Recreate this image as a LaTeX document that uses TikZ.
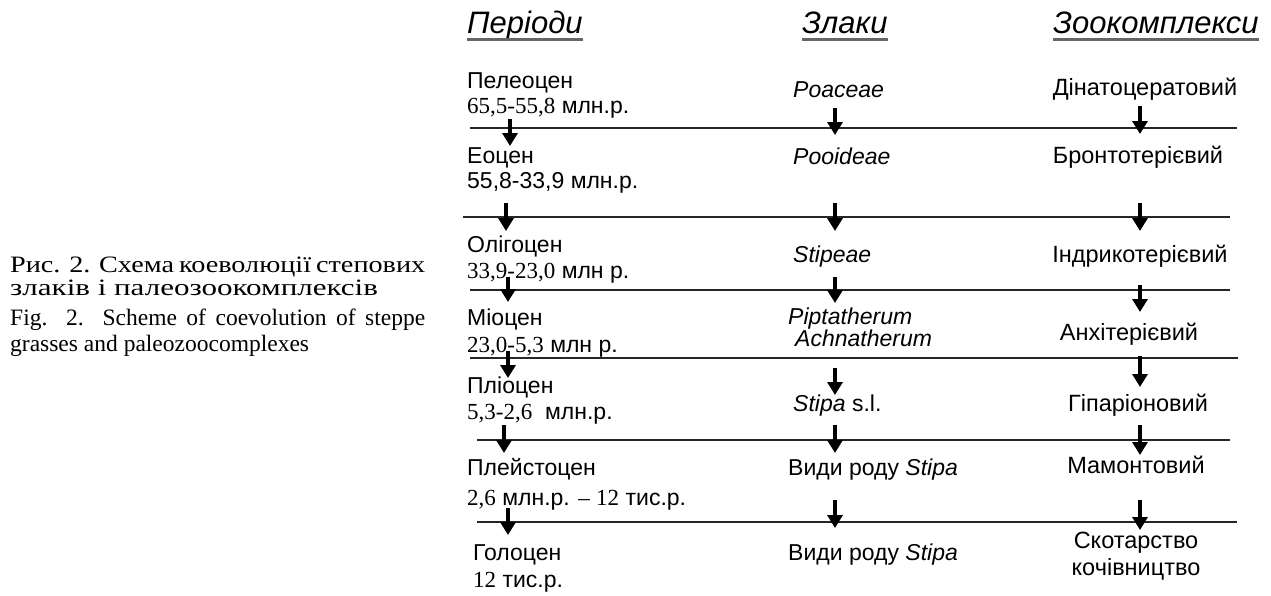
\documentclass[tikz,border=0pt]{standalone}
\usepackage{fontspec}
\setmainfont{Liberation Sans}
\newfontfamily\tms{Liberation Serif}
\newfontfamily\tmswide{Liberation Serif}[FakeStretch=1.2]
\newfontfamily\tmswider{Liberation Serif}[FakeStretch=1.32]
\usetikzlibrary{arrows.meta}
\begin{document}
\begin{tikzpicture}[x=1pt,y=-1pt,
  txt/.style={inner sep=0pt, anchor=base west, font=\fontsize{23}{27}\selectfont},
  ctr/.style={inner sep=0pt, anchor=base, font=\fontsize{23.5}{27}\selectfont},
  hdr/.style={inner sep=0pt, anchor=base west, font=\fontsize{31}{35}\selectfont\itshape},
  captxt/.style={inner sep=0pt, anchor=base west, font=\fontsize{23.5}{27}\selectfont\tms},
  capcyr/.style={inner sep=0pt, anchor=base west, font=\fontsize{23.5}{27}\selectfont\tmswide},
  ulin/.style={line width=2.5pt, color=black!60},
  hline/.style={line width=1.4pt, color=black!85},
  darr/.style={line width=4.5pt, -{Triangle[length=13pt,width=15pt]}}]
\useasboundingbox (0,0) rectangle (1271,595);
% caption
\node[capcyr] (c1) at (10,272) {\makebox[415pt][s]{Рис. 2. Схема коеволюції степових}};
\node[capcyr] (c2) at (10,295) {\tmswider злаків і палеозоокомплексів};
\node[captxt] (c3) at (10,325) {\makebox[415pt][s]{Fig. 2. Scheme of coevolution of steppe}};
\node[captxt] (c4) at (10,351) {grasses and paleozoocomplexes};
% headers
\node[hdr] (hP) at (467,33) {Періоди};
\node[hdr] (hZ) at (802,33) {Злаки};
\node[hdr] (hK) at (1053,33) {Зоокомплекси};
\foreach \h in {hP,hZ,hK}{\draw[ulin] ([yshift=-6.5pt]\h.base west) -- ([yshift=-6.5pt]\h.base east);}
% horizontal lines
\coordinate (l1a) at (470,128); \coordinate (l1b) at (1237,128);
\coordinate (l2a) at (463,217); \coordinate (l2b) at (1230,217);
\coordinate (l3a) at (470,290); \coordinate (l3b) at (1230,290);
\coordinate (l4a) at (470,358); \coordinate (l4b) at (1238,358);
\coordinate (l5a) at (477,440); \coordinate (l5b) at (1230,440);
\coordinate (l6a) at (477,522); \coordinate (l6b) at (1237,522);
\foreach \i in {1,...,6}{\draw[hline] (l\i a) -- (l\i b);}
% left column
\node[txt] (p1a) at (467,88) {Пелеоцен};
\node[txt] (p1b) at (467,113) {{\tms 65,5-55,8} млн.р.};
\node[txt] (p2a) at (467,163) {Еоцен};
\node[txt] (p2b) at (467,188) {55,8-33,9 млн.р.};
\node[txt] (p3a) at (467,252) {Олігоцен};
\node[txt] (p3b) at (467,278) {{\tms 33,9-23,0} млн р.};
\node[txt] (p4a) at (467,325) {Міоцен};
\node[txt] (p4b) at (467,352) {{\tms 23,0-5,3} млн р.};
\node[txt] (p5a) at (467,393) {Пліоцен};
\node[txt] (p5b) at (467,419) {{\tms 5,3-2,6}\ \ млн.р.};
\node[txt] (p6a) at (467,475) {Плейстоцен};
\node[txt] (p6b) at (467,505) {{\tms 2,6} млн.р. {\tms –} {\tms 12} тис.р.};
\node[txt] (p7a) at (473,560) {Голоцен};
\node[txt] (p7b) at (473,587) {{\tms 12} тис.р.};
% middle column
\node[txt] (g1) at (793,97) {\itshape Poaceae};
\node[txt] (g2) at (793,164) {\itshape Pooideae};
\node[txt] (g3) at (793,262) {\itshape Stipeae};
\node[txt] (g4a) at (788,324) {\itshape Piptatherum};
\node[txt] (g4b) at (795,346) {\itshape Achnatherum};
\node[txt] (g5) at (793,411) {\textit{Stipa} s.l.};
\node[txt] (g6) at (788,475) {Види роду \textit{Stipa}};
\node[txt] (g7) at (788,560) {Види роду \textit{Stipa}};
% right column
\node[ctr] (z1) at (1145,95) {Дінатоцератовий};
\node[ctr] (z2) at (1138,163) {Бронтотерієвий};
\node[ctr] (z3) at (1140,262) {Індрикотерієвий};
\node[ctr] (z4) at (1129,340) {Анхітерієвий};
\node[ctr] (z5) at (1138,411) {Гіпаріоновий};
\node[ctr] (z6) at (1136,473) {Мамонтовий};
\node[ctr] (z7a) at (1136,548) {Скотарство};
\node[ctr] (z7b) at (1136,575) {кочівництво};
% arrows
\foreach \n/\x/\ya/\yb in {
  a1/510/119/146, a2/506/203/231, a3/508/277/302, a4/508/351/378, a5/504/425/453, a6/508/508/535,
  b1/835/108/135, b2/835/203/231, b3/835/277/303, b4/835/368/395, b5/835/425/453, b6/835/500/528,
  c1/1140/106/134, c2/1140/203/231, c3/1140/285/312, c4/1140/356/387, c5/1140/425/455, c6/1140/500/530}{
  \coordinate (\n s) at (\x,\ya); \coordinate (\n e) at (\x,\yb);
  \draw[darr] (\n s) -- (\n e);}
\end{tikzpicture}
\end{document}
